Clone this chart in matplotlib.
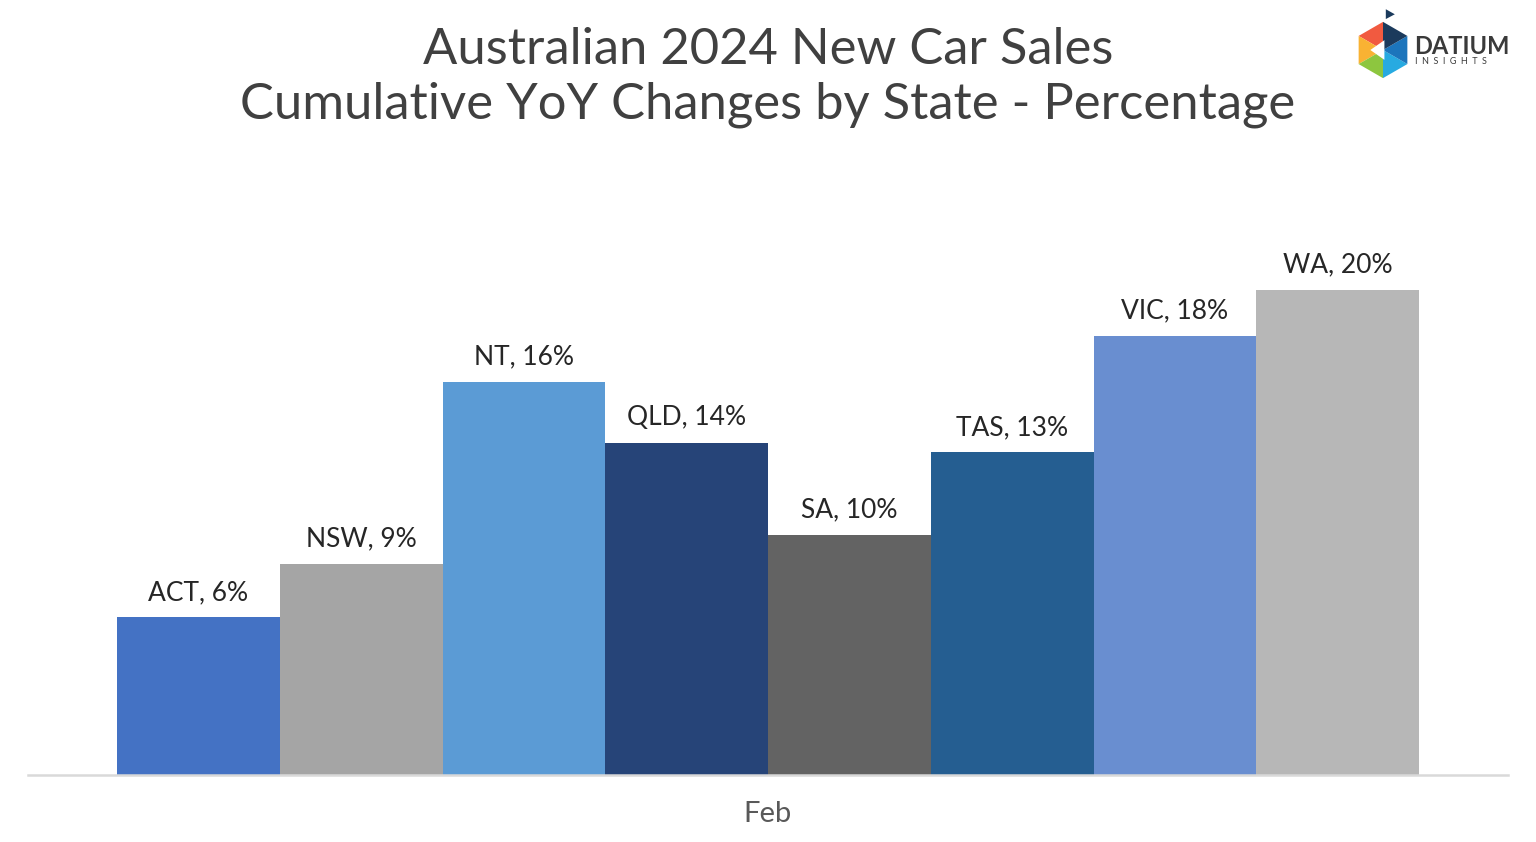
import matplotlib
matplotlib.use("Agg")
import matplotlib.pyplot as plt
from matplotlib.patches import Polygon
import numpy as np

plt.rcParams['font.family'] = ['Lato', 'DejaVu Sans']

states = ["ACT", "NSW", "NT", "QLD", "SA", "TAS", "VIC", "WA"]
values = [6.5, 8.7, 16.2, 13.7, 9.9, 13.3, 18.1, 20.0]
labels = ["6%", "9%", "16%", "14%", "10%", "13%", "18%", "20%"]
colors = ["#4472C4", "#A5A5A5", "#5B9BD5", "#264478", "#636363", "#255E91", "#698ED0", "#B7B7B7"]
category = "Feb"

W, H = 1536, 842
fig = plt.figure(figsize=(W / 100, H / 100), dpi=100)

ax_left, ax_right = 28 / W, 1508 / W
ax_bottom = (H - 775) / H
ax_top = (H - 170) / H
ax = fig.add_axes([ax_left, ax_bottom, ax_right - ax_left, ax_top - ax_bottom])

n = len(states)
pos = np.arange(n) - (n - 1) / 2
ax.bar(pos, values, width=1.0, color=colors, edgecolor='none', zorder=2)
for x, v, s, l in zip(pos, values, states, labels):
    ax.annotate(f"{s}, {l}", (x, v), xytext=(0, 9), textcoords='offset points',
                ha='center', va='bottom', fontsize=19, color='#262626')

margin = 89 / 162.75
ax.set_xlim(-n / 2 - margin, n / 2 + margin)
ax.set_ylim(0, 605 / 24.25)
ax.set_xticks([0])
ax.set_xticklabels([category], fontsize=21, color='#595959')
ax.tick_params(axis='x', length=0, pad=19)
ax.set_yticks([])
for sp in ['top', 'right', 'left']:
    ax.spines[sp].set_visible(False)
ax.spines['bottom'].set_color('#D9D9D9')
ax.spines['bottom'].set_linewidth(1.8)
ax.spines['bottom'].set_zorder(3)

fig.text(0.5, 1 - 50 / H, "Australian 2024 New Car Sales", ha='center', va='center',
         fontsize=36.5, color='#404040')
fig.text(0.5, 1 - 105 / H, "Cumulative YoY Changes by State - Percentage", ha='center', va='center',
         fontsize=36.5, color='#404040')

# logo
lax = fig.add_axes([1338 / W, 1 - 95 / H, 90 / W, 90 / H])
lax.set_xlim(-1.6, 1.6)
lax.set_ylim(-1.6, 1.6)
lax.set_aspect('equal')
lax.axis('off')
ang = np.deg2rad(90 + 60 * np.arange(7))
vx, vy = np.cos(ang), np.sin(ang)
tri_colors = ["#F15A40", "#F9B233", "#8DC63F", "#27AAE1", "#1C75BC", "#1B3A5C"]
for i in range(6):
    lax.add_patch(Polygon([[0, 0], [vx[i], vy[i]], [vx[i + 1], vy[i + 1]]],
                          closed=True, color=tri_colors[i], lw=0))
lax.add_patch(Polygon([[-0.45, 0], [0.05, 0.35], [0.05, -0.35]], closed=True, color='white', lw=0))
lax.add_patch(Polygon([[0.1, 1.1], [0.1, 1.45], [0.42, 1.27]], closed=True, color='#1B3A5C', lw=0))

fig.text(1414 / W, 1 - 46 / H, "DATIUM", ha='left', va='center', fontsize=17,
         fontweight='bold', color='#3A3A3A')
fig.text(1415 / W, 1 - 61 / H, "I  N  S  I  G  H  T  S", ha='left', va='center', fontsize=6.5,
         color='#3A3A3A')

fig.savefig("out.png", dpi=100)
